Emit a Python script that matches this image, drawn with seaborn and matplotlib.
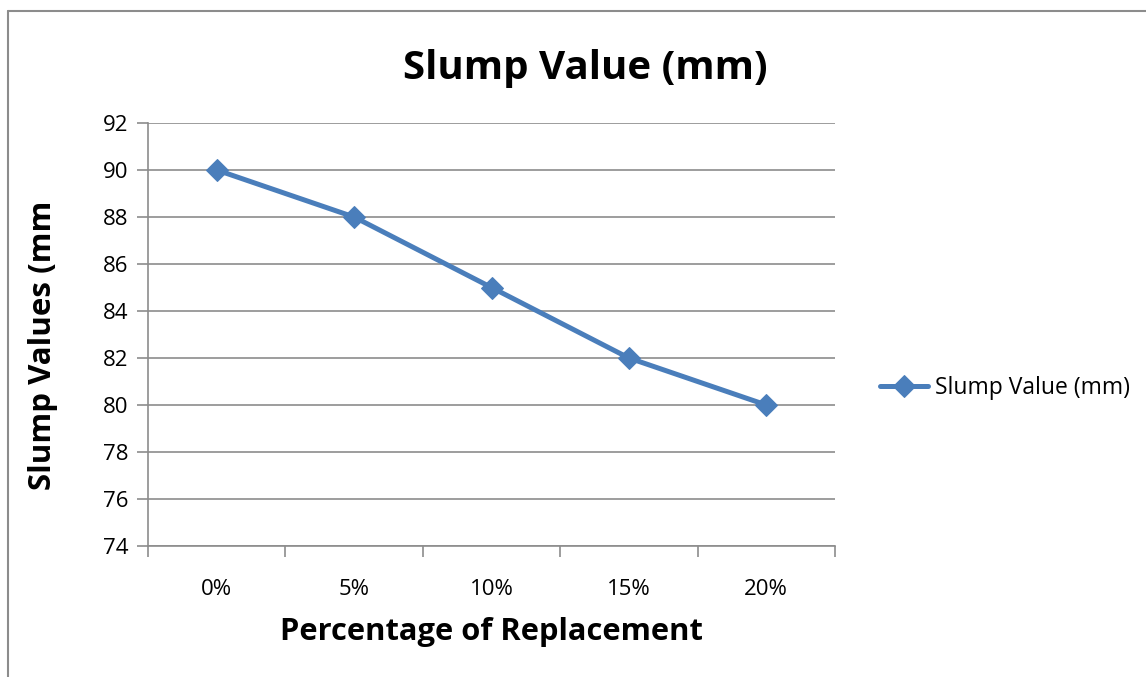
import matplotlib.pyplot as plt
import pandas as pd
import seaborn as sns
from matplotlib.lines import Line2D

# chart data
replacement = ["0%", "5%", "10%", "15%", "20%"]
slump_mm = [90, 88, 85, 82, 80]
y_ticks = [74, 76, 78, 80, 82, 84, 86, 88, 90, 92]

SERIES = "Slump Value (mm)"
BLUE = "#4A7EBB"
GRID = "#8C8C8C"

sns.set_theme(style="white")
plt.rcParams["font.family"] = ["Open Sans", "DejaVu Sans"]
plt.rcParams["text.color"] = "black"
plt.rcParams["axes.labelcolor"] = "black"
plt.rcParams["xtick.color"] = "black"
plt.rcParams["ytick.color"] = "black"

df = pd.DataFrame({"pct": replacement, "slump": slump_mm})
df["pos"] = range(len(df))

fig = plt.figure(figsize=(11.46, 6.77), dpi=100)
ax = fig.add_axes([148 / 1146, 1 - 546 / 677, 687 / 1146, 423 / 677])

sns.lineplot(data=df, x="pos", y="slump", ax=ax, color=BLUE, linewidth=3.6,
             marker="D", markersize=11, markeredgecolor=BLUE, sort=False,
             label=SERIES)

ax.set_xlim(-0.5, len(replacement) - 0.5)
ax.set_ylim(y_ticks[0], y_ticks[-1])
ax.set_yticks(y_ticks)
ax.set_xticks(range(len(replacement)))
ax.set_xticklabels(replacement)
ax.set_xticks([i - 0.5 for i in range(len(replacement) + 1)], minor=True)
ax.tick_params(axis="x", which="major", bottom=True, length=0, pad=24,
               labelsize=16)
ax.tick_params(axis="x", which="minor", bottom=True, length=8, width=1.2,
               color=GRID, direction="out")
ax.tick_params(axis="y", left=True, length=8, width=1.2, color=GRID,
               labelcolor="black", direction="out", labelsize=16, pad=6)
ax.grid(axis="y", color=GRID, linewidth=1.2)
ax.set_axisbelow(True)
for side in ["top", "right"]:
    ax.spines[side].set_visible(False)
for side in ["left", "bottom"]:
    ax.spines[side].set_color(GRID)
    ax.spines[side].set_linewidth(1.2)

ax.set_xlabel("Percentage of Replacement", fontsize=22.2, fontweight="bold",
              labelpad=12)
ax.set_ylabel("Slump Values (mm", fontsize=22.5, fontweight="bold")
ax.yaxis.set_label_coords((58 - 148) / 687, (546 - 345) / 423)
fig.text(585 / 1146, 1 - 68 / 677, "Slump Value (mm)", fontsize=29,
         fontweight="bold", ha="center", va="center")

ax.legend(loc="center left", bbox_to_anchor=(1 + 45 / 687, 0.3735),
          frameon=False, fontsize=16.5, handlelength=2.1, handletextpad=0.3,
          borderpad=0, borderaxespad=0)

# outer chart frame, runs off the right and bottom of the picture
fig.add_artist(Line2D([8 / 1146, 8 / 1146], [0, 1 - 11 / 677],
                      transform=fig.transFigure, color=GRID, linewidth=1.5))
fig.add_artist(Line2D([8 / 1146, 1], [1 - 11 / 677, 1 - 11 / 677],
                      transform=fig.transFigure, color=GRID, linewidth=1.5))

fig.savefig("out.png", dpi=100)
